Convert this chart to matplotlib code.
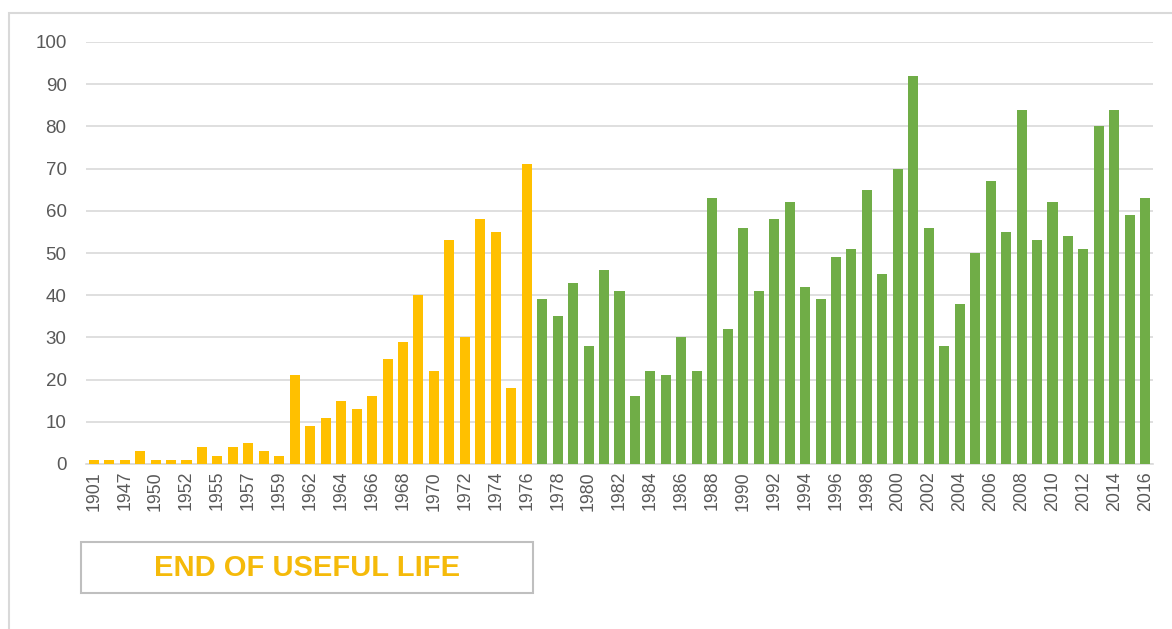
import matplotlib
matplotlib.use("Agg")
import matplotlib.pyplot as plt
from matplotlib.patches import Rectangle

plt.rcParams['font.family'] = ['Liberation Sans', 'DejaVu Sans']

# years with installations, split at end of useful life
old_years = [1901, 1945, 1947, 1948, 1950, 1951, 1952, 1954, 1955, 1956,
             1957, 1958, 1959, 1960, 1962, 1963, 1964, 1965, 1966, 1967,
             1968, 1969, 1970, 1971, 1972, 1973, 1974, 1975, 1976]
old_counts = [1, 1, 1, 3, 1, 1, 1, 4, 2, 4,
              5, 3, 2, 21, 9, 11, 15, 13, 16, 25,
              29, 40, 22, 53, 30, 58, 55, 18, 71]

new_years = list(range(1977, 2017))
new_counts = [39, 35, 43, 28, 46, 41, 16, 22, 21, 30,
              22, 63, 32, 56, 41, 58, 62, 42, 39, 49,
              51, 65, 45, 70, 92, 56, 28, 38, 50, 67,
              55, 84, 53, 62, 54, 51, 80, 84, 59, 63]

yellow = '#FFC000'
green = '#70AD47'
grid_col = '#D9D9D9'
text_col = '#595959'

years = old_years + new_years
n_old = len(old_years)

fig = plt.figure(figsize=(11.72, 6.29), dpi=100)
ax = fig.add_axes([86 / 1172, 1 - 464 / 629, (1153 - 86) / 1172, (464 - 42) / 629])

ax.bar(range(n_old), old_counts, width=0.65, color=yellow, zorder=3)
ax.bar(range(n_old, len(years)), new_counts, width=0.65, color=green, zorder=3)

ax.set_xlim(-0.5, len(years) - 0.5)
ax.set_ylim(0, 100)
ax.set_yticks(range(0, 101, 10))
ax.set_xticks(range(0, len(years), 2))
ax.set_xticklabels([str(y) for y in years[::2]], rotation=90)

ax.yaxis.grid(True, color=grid_col, linewidth=1.2, zorder=0)
for side in ['top', 'right', 'left']:
    ax.spines[side].set_visible(False)
ax.spines['bottom'].set_color(grid_col)
ax.spines['bottom'].set_linewidth(1.2)
ax.tick_params(axis='y', length=0, pad=14, labelsize=13.5, labelcolor=text_col)
ax.tick_params(axis='x', length=0, pad=5, labelsize=12.8, labelcolor=text_col)

# outer chart border
fig.patches.append(Rectangle((9 / 1172, -0.05), 1.1, 1 - 13 / 629 + 0.05,
                             transform=fig.transFigure, fill=False,
                             edgecolor=grid_col, linewidth=1.5))

# label box under the old bars
bx0, bx1, by0, by1 = 81, 533, 542, 593
fig.patches.append(Rectangle((bx0 / 1172, 1 - by1 / 629), (bx1 - bx0) / 1172,
                             (by1 - by0) / 629, transform=fig.transFigure,
                             fill=False, edgecolor='#BFBFBF', linewidth=1.5))
fig.text((bx0 + bx1) / 2 / 1172, 1 - (by0 + by1) / 2 / 629, 'END OF USEFUL LIFE',
         ha='center', va='center', fontsize=21, fontweight='bold', color='#F5BA0A')

fig.savefig('out.png', dpi=100)
